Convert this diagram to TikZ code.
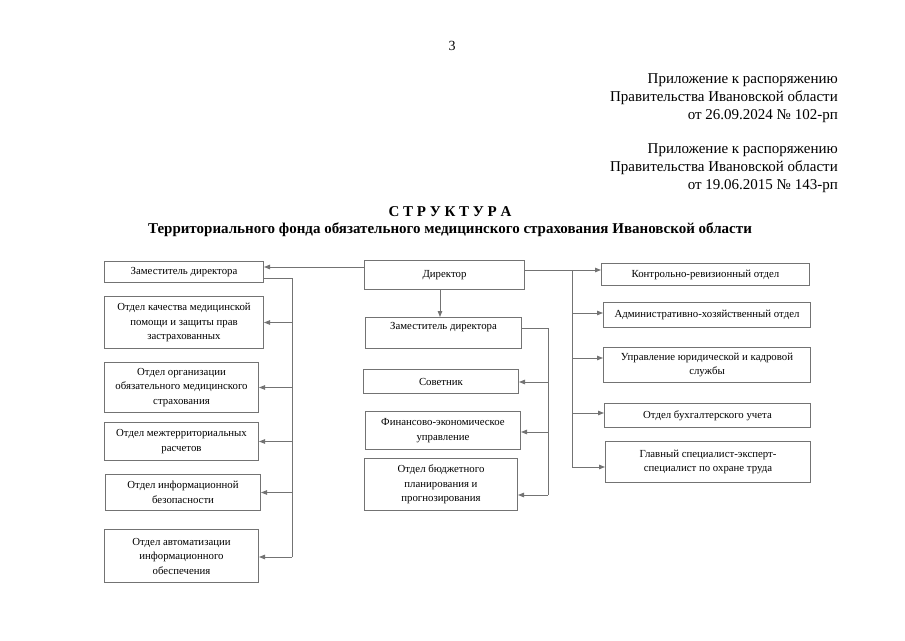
\documentclass[tikz,border=0pt]{standalone}
\usepackage{fontspec}
\setmainfont{Liberation Serif}
\usetikzlibrary{arrows.meta}
\begin{document}
\begin{tikzpicture}[x=1pt,y=-1pt,
 box/.style={draw=black!55, line width=1pt, inner sep=1pt, align=center, font=\fontsize{10.8}{14.5}\selectfont, anchor=north west},
 conn/.style={draw=black!55, line width=1pt},
 arr/.style={conn, -{Triangle[length=6pt,width=4.5pt]}},
 hdr/.style={font=\fontsize{15}{18}\selectfont, align=right, anchor=north east, inner sep=0pt},
 ttl/.style={font=\bfseries\fontsize{15}{18}\selectfont, inner sep=0pt}]
\useasboundingbox[fill=white] (0,0) rectangle (905,640);

\node[font=\fontsize{14}{17}\selectfont, inner sep=0pt] (pg) at (452,46) {3};
\node[hdr] (h1) at (838,73) {Приложение к распоряжению\\Правительства Ивановской области\\от 26.09.2024 № 102-рп};
\node[hdr] (h2) at (838,143) {Приложение к распоряжению\\Правительства Ивановской области\\от 19.06.2015 № 143-рп};
\node[ttl] (t1) at (450,212) {С Т Р У К Т У Р А};
\node[ttl] (t2) at (450,230) {Территориального фонда обязательного медицинского страхования Ивановской области};

% left column
\node[box, minimum width=159, minimum height=21] (L1) at (104,261) {Заместитель директора};
\node[box, minimum width=159, minimum height=52] (L2) at (104,296) {Отдел качества медицинской\\помощи и защиты прав\\застрахованных};
\node[box, minimum width=154, minimum height=50] (L3) at (104,362) {Отдел организации\\обязательного медицинского\\страхования};
\node[box, minimum width=154, minimum height=38] (L4) at (104,422) {Отдел межтерриториальных\\расчетов};
\node[box, minimum width=155, minimum height=36] (L5) at (105,474) {Отдел информационной\\безопасности};
\node[box, minimum width=154, minimum height=53] (L6) at (104,529) {Отдел автоматизации\\информационного\\обеспечения};

% middle column
\node[box, minimum width=160, minimum height=29] (D) at (364,260) {Директор};
\node[box, minimum width=156, minimum height=31] (M1) at (365,317) {Заместитель директора\\ \phantom{x}};
\node[box, minimum width=155, minimum height=24] (M2) at (363,369) {Советник};
\node[box, minimum width=155, minimum height=38] (M3) at (365,411) {Финансово-экономическое\\управление};
\node[box, minimum width=153, minimum height=52] (M4) at (364,458) {Отдел бюджетного\\планирования и\\прогнозирования};

% right column
\node[box, minimum width=208, minimum height=22] (R1) at (601,263) {Контрольно-ревизионный отдел};
\node[box, minimum width=207, minimum height=25] (R2) at (603,302) {Административно-хозяйственный отдел};
\node[box, minimum width=207, minimum height=35] (R3) at (603,347) {Управление юридической и кадровой\\службы};
\node[box, minimum width=206, minimum height=24] (R4) at (604,403) {Отдел бухгалтерского учета};
\node[box, minimum width=205, minimum height=41] (R5) at (605,441) {Главный специалист-эксперт-\\специалист по охране труда};

% bus coordinates
\coordinate (lb1) at (292,278);
\coordinate (lb2) at (292,557);
\coordinate (rb1) at (572,270);
\coordinate (rb2) at (572,467);
\coordinate (mb1) at (548,328);
\coordinate (mb2) at (548,495);

% director links
\draw[arr] (D.west |- 0,267) -- (L1.east |- 0,267);
\draw[arr] (D.south -| 440,0) -- (M1.north -| 440,0);
\draw[conn] (D.east |- rb1) -- (rb1) -- (rb2);

% left bus
\draw[conn] (L1.east |- lb1) -- (lb1) -- (lb2);
\draw[arr] (lb1 |- L2.east) -- (L2.east);
\draw[arr] (lb1 |- L3.east) -- (L3.east);
\draw[arr] (lb1 |- L4.east) -- (L4.east);
\draw[arr] (lb1 |- L5.east) -- (L5.east);
\draw[arr] (lb2) -- (L6.east |- lb2);

% right bus
\draw[arr] (rb1) -- (R1.west |- rb1);
\draw[arr] (rb1 |- 0,313) -- (R2.west |- 0,313);
\draw[arr] (rb1 |- 0,358) -- (R3.west |- 0,358);
\draw[arr] (rb1 |- 0,413) -- (R4.west |- 0,413);
\draw[arr] (rb2) -- (R5.west |- rb2);

% middle bus
\draw[conn] (M1.east |- mb1) -- (mb1) -- (mb2);
\draw[arr] (mb1 |- 0,382) -- (M2.east |- 0,382);
\draw[arr] (mb1 |- 0,432) -- (M3.east |- 0,432);
\draw[arr] (mb2) -- (M4.east |- mb2);
\end{tikzpicture}
\end{document}
